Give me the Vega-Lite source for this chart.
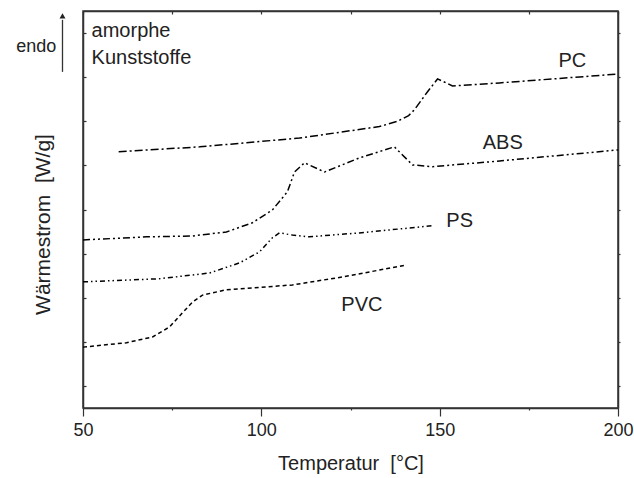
{
  "$schema": "https://vega.github.io/schema/vega-lite/v6.json",
  "width": 535,
  "height": 397,
  "autosize": "none",
  "padding": {"left": 83, "top": 11, "right": 16, "bottom": 70},
  "background": "white",
  "config": {
    "view": {"stroke": "#333", "strokeWidth": 1.5},
    "font": "Liberation Sans",
    "axis": {"domainColor": "#333", "domainWidth": 1.5, "tickColor": "#333", "tickWidth": 1.2, "grid": false, "labelFont": "Liberation Sans", "titleFont": "Liberation Sans", "labelColor": "#222", "titleColor": "#222", "titleFontWeight": "normal"}
  },
  "datasets": {
    "curves": [
      {"series": "PC", "T": 60.0, "v": 5.31},
      {"series": "PC", "T": 82.7, "v": 5.42},
      {"series": "PC", "T": 110.7, "v": 5.62},
      {"series": "PC", "T": 133.1, "v": 5.88},
      {"series": "PC", "T": 138.2, "v": 6.0},
      {"series": "PC", "T": 141.3, "v": 6.13},
      {"series": "PC", "T": 142.9, "v": 6.26},
      {"series": "PC", "T": 146.6, "v": 6.67},
      {"series": "PC", "T": 149.4, "v": 6.96},
      {"series": "PC", "T": 151.3, "v": 6.89},
      {"series": "PC", "T": 153.6, "v": 6.80},
      {"series": "PC", "T": 166.8, "v": 6.87},
      {"series": "PC", "T": 200.0, "v": 7.07},
      {"series": "ABS", "T": 50.0, "v": 3.31},
      {"series": "ABS", "T": 67.8, "v": 3.38},
      {"series": "ABS", "T": 80.7, "v": 3.40},
      {"series": "ABS", "T": 90.2, "v": 3.49},
      {"series": "ABS", "T": 97.5, "v": 3.70},
      {"series": "ABS", "T": 103.1, "v": 3.99},
      {"series": "ABS", "T": 107.3, "v": 4.40},
      {"series": "ABS", "T": 109.3, "v": 4.85},
      {"series": "ABS", "T": 112.1, "v": 5.06},
      {"series": "ABS", "T": 117.7, "v": 4.85},
      {"series": "ABS", "T": 127.5, "v": 5.17},
      {"series": "ABS", "T": 137.3, "v": 5.42},
      {"series": "ABS", "T": 142.4, "v": 5.01},
      {"series": "ABS", "T": 148.0, "v": 4.97},
      {"series": "ABS", "T": 166.8, "v": 5.10},
      {"series": "ABS", "T": 200.0, "v": 5.35},
      {"series": "PS", "T": 50.0, "v": 2.36},
      {"series": "PS", "T": 71.4, "v": 2.43},
      {"series": "PS", "T": 85.5, "v": 2.56},
      {"series": "PS", "T": 93.9, "v": 2.79},
      {"series": "PS", "T": 99.5, "v": 3.04},
      {"series": "PS", "T": 103.1, "v": 3.36},
      {"series": "PS", "T": 105.1, "v": 3.47},
      {"series": "PS", "T": 108.7, "v": 3.42},
      {"series": "PS", "T": 113.5, "v": 3.38},
      {"series": "PS", "T": 127.5, "v": 3.47},
      {"series": "PS", "T": 147.7, "v": 3.63},
      {"series": "PVC", "T": 50.0, "v": 0.88},
      {"series": "PVC", "T": 62.2, "v": 0.98},
      {"series": "PVC", "T": 69.5, "v": 1.11},
      {"series": "PVC", "T": 74.3, "v": 1.34},
      {"series": "PVC", "T": 77.9, "v": 1.66},
      {"series": "PVC", "T": 80.7, "v": 1.90},
      {"series": "PVC", "T": 83.5, "v": 2.06},
      {"series": "PVC", "T": 90.2, "v": 2.18},
      {"series": "PVC", "T": 108.7, "v": 2.29},
      {"series": "PVC", "T": 122.7, "v": 2.47},
      {"series": "PVC", "T": 140.6, "v": 2.74}
    ],
    "labels": [
      {"text": "PC", "T": 187.2, "v": 7.37},
      {"text": "ABS", "T": 167.7, "v": 5.50},
      {"text": "PS", "T": 155.6, "v": 3.74},
      {"text": "PVC", "T": 128.2, "v": 1.84}
    ],
    "notes": [
      {"text": "amorphe", "T": 52.4, "v": 7.90},
      {"text": "Kunststoffe", "T": 52.4, "v": 7.30}
    ],
    "endo": [{"text": "endo", "T": 42.5, "v": 7.57}],
    "arrow": [{"T": 44.25, "v": 7.12, "v2": 8.3}],
    "head": [{"T": 44.25, "v": 8.39}]
  },
  "layer": [
    {
      "data": {"name": "curves"},
      "mark": {"type": "line", "color": "black", "strokeWidth": 1.5},
      "encoding": {
        "x": {"field": "T", "type": "quantitative", "scale": {"domain": [50, 200], "nice": false, "zero": false},
          "axis": {"orient": "bottom", "title": "Temperatur\u00a0\u00a0[°C]", "values": [50, 75, 100, 125, 150, 175, 200],
            "labelExpr": "datum.value % 50 === 0 ? datum.label : ''",
            "tickSize": {"condition": {"test": "datum.value % 50 === 0", "value": 8}, "value": 2},
            "labelFontSize": 18, "titleFontSize": 20, "labelPadding": 5, "titlePadding": 14, "labelFlush": false}},
        "y": {"field": "v", "type": "quantitative", "scale": {"domain": [-0.5, 8.5], "nice": false, "zero": false},
          "axis": {"orient": "left", "title": "Wärmestrom\u00a0\u00a0[W/g]", "values": [0, 1, 2, 3, 4, 5, 6, 7, 8], "labels": false,
            "tickSize": -3, "titleFontSize": 21, "titlePadding": 29, "titleY": 213}},
        "strokeDash": {"field": "series", "type": "nominal",
          "scale": {"domain": ["PC", "ABS", "PS", "PVC"], "range": [[8, 3, 2, 3], [7, 3, 2, 3, 2, 3], [5, 3, 1.5, 3, 1.5, 3], [4, 3]]},
          "legend": null}
      }
    },
    {
      "data": {"name": "curves"},
      "mark": {"type": "point", "opacity": 0},
      "encoding": {
        "x": {"field": "T", "type": "quantitative", "axis": {"orient": "top", "title": null, "labels": false, "values": [50, 75, 100, 125, 150, 175, 200], "tickSize": -3}},
        "y": {"field": "v", "type": "quantitative", "axis": {"orient": "right", "title": null, "labels": false, "values": [0, 1, 2, 3, 4, 5, 6, 7, 8], "tickSize": 2}}
      }
    },
    {
      "data": {"name": "labels"},
      "mark": {"type": "text", "fontSize": 20, "color": "#222", "align": "center", "baseline": "middle"},
      "encoding": {
        "x": {"field": "T", "type": "quantitative", "axis": null},
        "y": {"field": "v", "type": "quantitative", "axis": null},
        "text": {"field": "text"}
      }
    },
    {
      "data": {"name": "notes"},
      "mark": {"type": "text", "fontSize": 20, "color": "#222", "align": "left", "baseline": "alphabetic"},
      "encoding": {
        "x": {"field": "T", "type": "quantitative", "axis": null},
        "y": {"field": "v", "type": "quantitative", "axis": null},
        "text": {"field": "text"}
      }
    },
    {
      "data": {"name": "endo"},
      "mark": {"type": "text", "fontSize": 18, "color": "#222", "align": "right", "baseline": "alphabetic"},
      "encoding": {
        "x": {"field": "T", "type": "quantitative", "axis": null},
        "y": {"field": "v", "type": "quantitative", "axis": null},
        "text": {"field": "text"}
      }
    },
    {
      "data": {"name": "arrow"},
      "mark": {"type": "rule", "color": "#333", "strokeWidth": 1.3},
      "encoding": {
        "x": {"field": "T", "type": "quantitative", "axis": null},
        "y": {"field": "v", "type": "quantitative", "axis": null},
        "y2": {"field": "v2"}
      }
    },
    {
      "data": {"name": "head"},
      "mark": {"type": "point", "shape": "triangle-up", "filled": true, "color": "#222", "size": 35, "opacity": 1},
      "encoding": {
        "x": {"field": "T", "type": "quantitative", "axis": null},
        "y": {"field": "v", "type": "quantitative", "axis": null}
      }
    }
  ],
  "resolve": {"axis": {"x": "independent", "y": "independent"}}
}
